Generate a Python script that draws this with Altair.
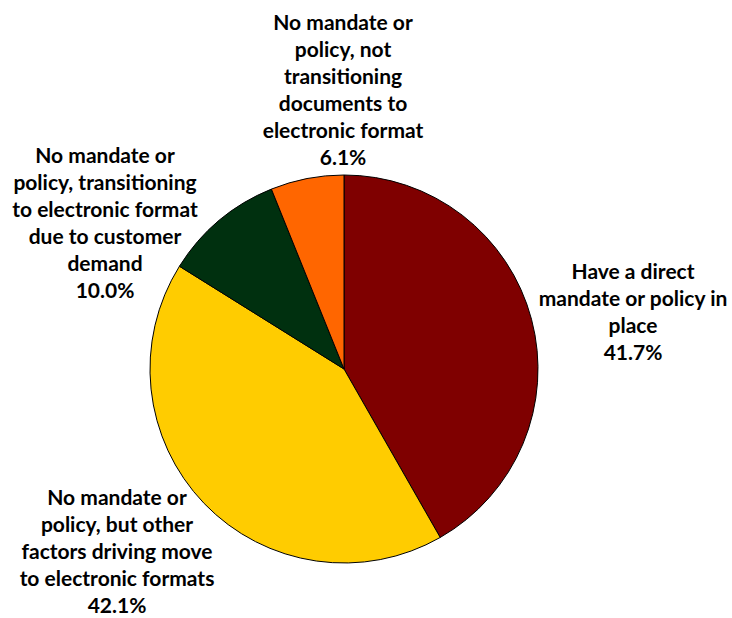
import altair as alt
import pandas as pd

categories = [
    "Have a direct mandate or policy in place",
    "No mandate or policy, but other factors driving move to electronic formats",
    "No mandate or policy, transitioning to electronic format due to customer demand",
    "No mandate or policy, not transitioning documents to electronic format",
]
values = [41.7, 42.1, 10.0, 6.1]
colors = ["#7F0000", "#FFCC00", "#00300F", "#FF6600"]
label_lines = [
    ["Have a direct", "mandate or policy in", "place", "41.7%"],
    ["No mandate or", "policy, but other", "factors driving move", "to electronic formats", "42.1%"],
    ["No mandate or", "policy, transitioning", "to electronic format", "due to customer", "demand", "10.0%"],
    ["No mandate or", "policy, not", "transitioning", "documents to", "electronic format", "6.1%"],
]

df = pd.DataFrame({"category": categories, "value": values, "order": list(range(len(values)))})

CX, CY, R = 344, 369, 194

pie = alt.Chart(df).mark_arc(outerRadius=R, stroke="black", strokeWidth=1).encode(
    theta=alt.Theta("value:Q", stack=True),
    order=alt.Order("order:Q"),
    color=alt.Color("category:N", scale=alt.Scale(domain=categories, range=colors), legend=None),
    x=alt.value(CX),
    y=alt.value(CY),
)

# (x centre, y of first line)
label_pos = [(633, 273), (117, 499), (105, 157), (343, 24)]

layers = [pie]
for cat, lines, (lx, ly) in zip(categories, label_lines, label_pos):
    ldf = pd.DataFrame({"category": [cat], "text": ["\n".join(lines)]})
    layers.append(
        alt.Chart(ldf).mark_text(
            font="Lato", fontWeight="bold", fontSize=21, lineBreak="\n", lineHeight=27,
            align="center", baseline="middle", color="black",
        ).encode(text="text:N", x=alt.value(lx), y=alt.value(ly))
    )

chart = alt.layer(*layers).properties(
    width=732, height=618, padding=0, autosize=alt.AutoSizeParams(type="none"),
    background="white",
).configure_view(stroke=None)

chart.save("out.html", embed_options={"renderer": "svg", "actions": False})
